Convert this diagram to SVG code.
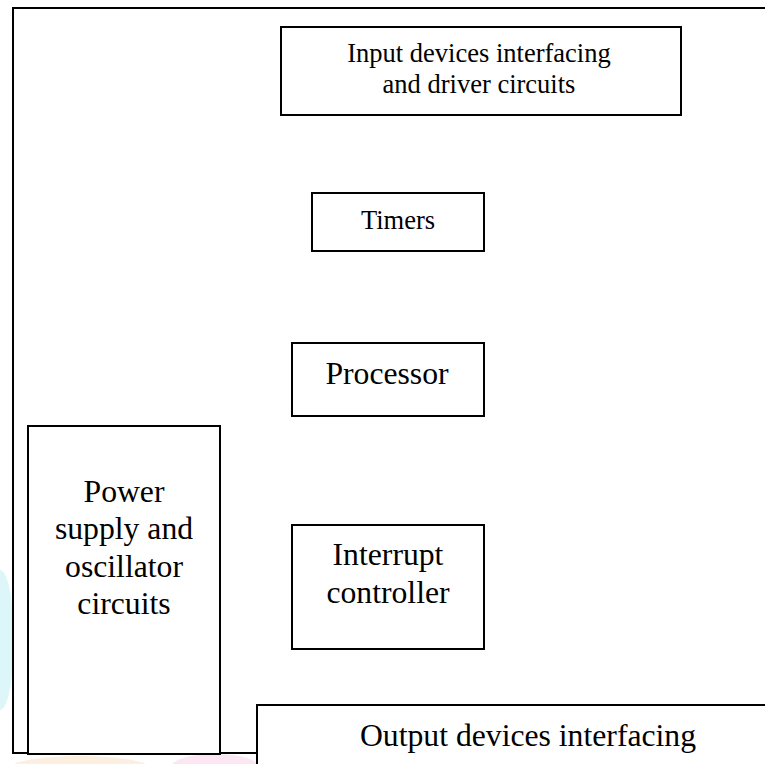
<svg xmlns="http://www.w3.org/2000/svg" width="765" height="764" viewBox="0 0 765 764">
<style>
.box{fill:#fff;stroke:#000;stroke-width:2}
.ln{fill:none;stroke:#000;stroke-width:2}
.t{font-family:"Liberation Serif","Times New Roman",serif;fill:#000;text-anchor:middle}
.s26{font-size:26.5px}
.s32{font-size:31.7px}
</style>
<rect width="765" height="764" fill="#fff"/>
<g id="watermark" opacity="0.35">
<ellipse cx="0" cy="640" rx="14" ry="70" fill="#9fe6f2"/>
<ellipse cx="80" cy="768" rx="70" ry="12" fill="#fbd3a8"/>
<ellipse cx="215" cy="768" rx="45" ry="14" fill="#f8b8d8"/>
</g>
<g id="frame">
<path class="ln" d="M765,8 H13 V753 H257"/>
</g>
<g id="connectors"></g>
<g id="input">
<rect class="box" x="281" y="27" width="400" height="88"/>
<text class="t s26" x="479" y="62">Input devices interfacing</text>
<text class="t s26" x="479" y="93">and driver circuits</text>
</g>
<g id="timers">
<rect class="box" x="312" y="193" width="172" height="58"/>
<text class="t s26" x="398" y="229">Timers</text>
</g>
<g id="processor">
<rect class="box" x="292" y="343" width="192" height="73"/>
<text class="t s32" x="387" y="384">Processor</text>
</g>
<g id="interrupt">
<rect class="box" x="292" y="525" width="192" height="124"/>
<text class="t s32" x="388" y="565">Interrupt</text>
<text class="t s32" x="388" y="603">controller</text>
</g>
<g id="power">
<rect class="box" x="28" y="426" width="192" height="328"/>
<text class="t s32" x="124" y="502">Power</text>
<text class="t s32" x="124" y="539">supply and</text>
<text class="t s32" x="124" y="577">oscillator</text>
<text class="t s32" x="124" y="614">circuits</text>
</g>
<g id="output">
<rect class="box" x="257" y="705" width="520" height="70"/>
<text class="t s32" x="528" y="746">Output devices interfacing</text>
</g>
</svg>
